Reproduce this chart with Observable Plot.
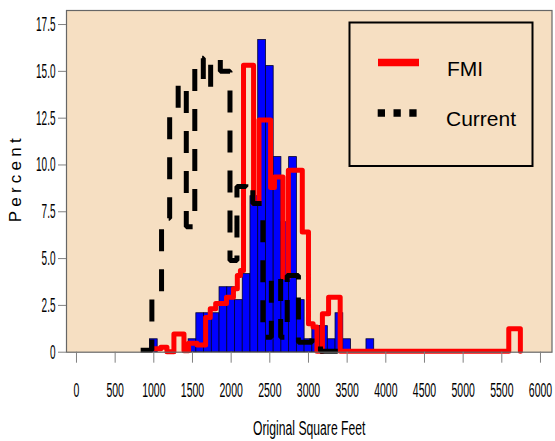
<!DOCTYPE html>
<html><head><meta charset="utf-8">
<script src="https://cdn.jsdelivr.net/npm/d3@7"></script>
<script src="https://cdn.jsdelivr.net/npm/@observablehq/plot@0.6"></script>
<style>
body{margin:0;background:#fff;}
#wrap{position:relative;width:555px;height:441px;overflow:hidden;}
#wrap svg{position:absolute;left:0;top:0;}
</style></head><body><div id="wrap"></div>
<script>
// Blue histogram: bin centres (sq ft, 100-wide bins) and percent
const binWidth = 100;
const binCenters = [1000,1500,1600,1700,1800,1900,2000,2100,2200,2300,2400,2500,2600,2700,2800,2900,3000,3100,3200,3300,3400,3500,3800];
const binPercents = [0.69,0.69,2.08,2.08,2.08,3.47,3.47,2.78,4.17,8.33,16.67,15.28,10.42,6.94,10.42,2.78,0.69,1.39,1.39,0.69,2.08,0.69,0.69];

// FMI step line (step starts, percent)
const fmiX = [1000,1090,1170,1260,1390,1450,1560,1670,1730,1800,1940,2030,2080,2120,2160,2290,2360,2510,2560,2670,2740,2920,3000,3060,3110,3180,3260,3410,5590,5740];
const fmiY = [0.18,0.27,0.03,0.97,0.08,0.48,0.38,1.85,2.32,2.6,2.94,3.39,4.1,4.37,15.33,7.94,12.4,8.8,9.36,4.0,9.72,6.42,1.52,1.34,0.05,2.05,2.94,0.05,1.25,0.05];

// Current step line (step starts, percent)
const curX = [830,975,1100,1205,1315,1420,1530,1640,1735,1860,1985,2075,2190,2280,2410,2520,2640,2725,2870,3045,3155,3500];
const curY = [0.1,2.94,7.15,12.9,14.35,6.7,15.7,14.1,15.7,15.0,4.9,8.85,9.1,7.94,0.8,4.1,0.8,4.1,0.53,0.77,0.05,0.05];

// Axes
const xTicks = [0,500,1000,1500,2000,2500,3000,3500,4000,4500,5000,5500,6000];
const yTicks = [0,2.5,5,7.5,10,12.5,15,17.5];
const yTickLabels = ["0","2.5","5.0","7.5","10.0","12.5","15.0","17.5"];
const xTitle = "Original Square Feet";
const yTitle = "Percent";
const seriesNames = ["FMI","Current"];

const bars = binCenters.map((c,i)=>({x1:c-binWidth/2, x2:c+binWidth/2, y:binPercents[i]}));
const fmi = fmiX.map((x,i)=>({x, y:fmiY[i]}));
const cur = curX.map((x,i)=>({x, y:curY[i]}));

const chart = Plot.plot({
  width:555, height:441,
  marginLeft:66, marginRight:3.5, marginTop:10, marginBottom:89.3,
  x:{domain:[-129,6149]},
  y:{domain:[0,18.25]},
  style:{background:"transparent", fontFamily:"'Liberation Sans', Arial, sans-serif", overflow:"visible", color:"black"},
  marks:[
    Plot.frame({fill:"#F6DFC2", stroke:null}),
    Plot.rectY(bars,{x1:"x1", x2:"x2", y:"y", fill:"#0000FF", stroke:"#000030", strokeWidth:0.8}),
    Plot.line(fmi,{x:"x", y:"y", curve:"step-after", stroke:"#FF0000", strokeWidth:5}),
    Plot.line(cur,{x:"x", y:"y", curve:"step-after", stroke:"#000", strokeWidth:5, strokeDasharray:"22,18", strokeLinecap:"butt", strokeLinejoin:"miter"}),
    Plot.frame({stroke:"#666", strokeWidth:1.2}),
    Plot.axisX(xTicks,{tickSize:11, tickPadding:19, fontSize:21, stroke:"#808080", fill:"black", label:null, tickFormat:d=>String(d)}),
    Plot.axisY(yTicks,{tickSize:8, tickPadding:3, fontSize:20, stroke:"#808080", fill:"black", label:null, tickFormat:d=>yTickLabels[yTicks.indexOf(d)]}),
    Plot.text([xTitle],{frameAnchor:"bottom", dy:83, lineAnchor:"bottom", fontSize:21}),
    Plot.text([yTitle],{frameAnchor:"left", textAnchor:"middle", dx:-51, dy:-1, rotate:-90, fontSize:17})
  ]
});
document.getElementById("wrap").appendChild(chart);

function squeezeEl(el, sx){
  let t = el.getAttribute("transform");
  if (!t) {
    const x = +el.getAttribute("x")||0, y = +el.getAttribute("y")||0;
    el.removeAttribute("x"); el.removeAttribute("y");
    t = `translate(${x},${y})`;
  }
  el.setAttribute("transform", t + ` scale(${sx},1)`);
}
const tickSet = new Set([...xTicks.map(String), ...yTickLabels]);
d3.select(chart).selectAll("text").each(function(){
  const s = this.textContent;
  if (s === xTitle) squeezeEl(this, 0.58);
  else if (s === yTitle) { this.setAttribute("textLength", 84); this.setAttribute("lengthAdjust", "spacing"); }
  else if (tickSet.has(s)) squeezeEl(this, 0.5);
});

// Legend overlay
const lg = d3.select("#wrap").append("svg").attr("width",555).attr("height",441)
  .style("font-family","'Liberation Sans', Arial, sans-serif");
lg.append("rect").attr("x",349.5).attr("y",22.5).attr("width",183).attr("height",143.5)
  .attr("fill","none").attr("stroke","#000").attr("stroke-width",2);
lg.append("line").attr("x1",378).attr("x2",419).attr("y1",62.5).attr("y2",62.5)
  .attr("stroke","#FF0000").attr("stroke-width",7.7);
lg.append("line").attr("x1",377.7).attr("x2",417).attr("y1",113).attr("y2",113)
  .attr("stroke","#000").attr("stroke-width",7.5).attr("stroke-dasharray","7.3,8.5");
lg.append("text").attr("x",447).attr("y",75.5).attr("font-size",21).text(seriesNames[0]);
lg.append("text").attr("x",446).attr("y",126).attr("font-size",21).text(seriesNames[1]);
</script></body></html>
